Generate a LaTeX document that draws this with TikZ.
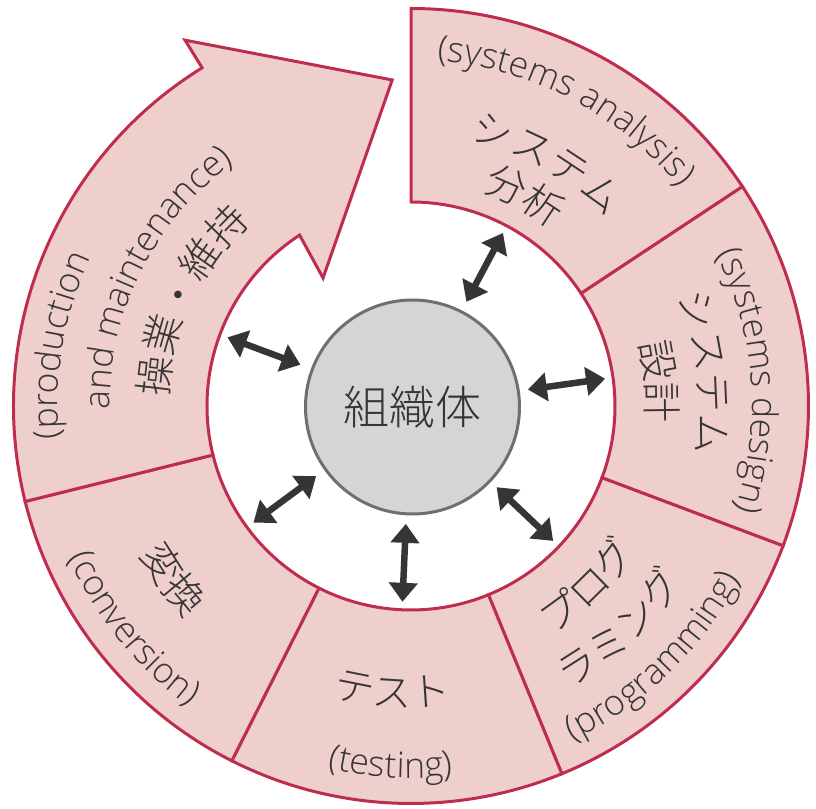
\documentclass[tikz,border=0pt]{standalone}
\usepackage{fontspec}
\setmainfont{Open Sans Light}
\newfontfamily\jp{Noto Sans CJK JP Light}
\usetikzlibrary{arrows.meta,decorations.text}
\definecolor{segfill}{HTML}{EECFCC}
\definecolor{segline}{HTML}{BE2D4F}
\definecolor{orgfill}{HTML}{D4D5D7}
\definecolor{orgline}{HTML}{6F6F6F}
\definecolor{ink}{HTML}{353535}
\newcommand\jpf{\jp\fontsize{40}{40}\selectfont\color{ink}}
\newcommand\enf{\fontsize{35.5}{35.5}\selectfont\color{ink}}
\newcommand\Ro{397.5}
\newcommand\Ri{204}
% clockwise text, tops outward: centre angle, baseline radius, format, text
\newcommand\cwtext[4]{%
  \path[decorate, decoration={text along path, text align=center, text={|#3|#4}}]
    ({#1+80}:#2) arc[start angle={#1+80}, end angle={#1-80}, radius=#2];}
% counter-clockwise text, tops inward
\newcommand\ccwtext[4]{%
  \path[decorate, decoration={text along path, text align=center, text={|#3|#4}}]
    ({#1-80}:#2) arc[start angle={#1-80}, end angle={#1+80}, radius=#2];}
\begin{document}
\begin{tikzpicture}[x=1pt,y=1pt,
  seg/.style={fill=segfill, draw=segline, line width=3pt, line join=miter},
  link/.style={draw=ink, line width=6.5pt,
    {Triangle[length=19pt,width=28pt]}-{Triangle[length=19pt,width=28pt]}},
  org/.style={circle, fill=orgfill, draw=orgline, line width=3pt,
    minimum size=214pt, inner sep=0pt, font=\jp\fontsize{46}{46}\selectfont, text=ink}]
\useasboundingbox (-411,-402) rectangle (405,406);

% segments
\draw[seg] (90:\Ri) -- (90:\Ro) arc[start angle=90, end angle=33.5, radius=\Ro]
  -- (33.5:\Ri) arc[start angle=33.5, end angle=90, radius=\Ri] -- cycle;
\draw[seg] (33.5:\Ri) -- (33.5:\Ro) arc[start angle=33.5, end angle=-20.6, radius=\Ro]
  -- (-20.6:\Ri) arc[start angle=-20.6, end angle=33.5, radius=\Ri] -- cycle;
\draw[seg] (-20.6:\Ri) -- (-20.6:\Ro) arc[start angle=-20.6, end angle=-67.7, radius=\Ro]
  -- (-67.7:\Ri) arc[start angle=-67.7, end angle=-20.6, radius=\Ri] -- cycle;
\draw[seg] (-67.7:\Ri) -- (-67.7:\Ro) arc[start angle=-67.7, end angle=-116.8, radius=\Ro]
  -- (-116.8:\Ri) arc[start angle=-116.8, end angle=-67.7, radius=\Ri] -- cycle;
\draw[seg] (243.2:\Ri) -- (243.2:\Ro) arc[start angle=243.2, end angle=193.9, radius=\Ro]
  -- (193.9:\Ri) arc[start angle=193.9, end angle=243.2, radius=\Ri] -- cycle;
% production and maintenance arrow
\draw[seg] (193.9:\Ri) -- (193.9:\Ro) arc[start angle=193.9, end angle=121.7, radius=\Ro]
  -- (121.7:430) -- (93.3:326.6) -- (124.5:155.3) -- (123.1:\Ri)
  arc[start angle=123.1, end angle=193.9, radius=\Ri] -- cycle;

% centre
\node[org] (org) at (1.5,-1) {組織体};

% links
\foreach \a/\n in {62/an, 8/de, -43.5/pr, -92.5/te, 216.5/co, 159.5/pm}{
  \coordinate (\n-in) at (\a:118);
  \coordinate (\n-out) at (\a:196);
  \draw[link] (\n-in) -- (\n-out);
}

% labels: systems analysis
\cwtext{62.4}{346}{\enf}{(systems analysis)}
\cwtext{60.7}{272}{\jpf}{システム}
\cwtext{61.6}{226}{\jpf}{分析}
% systems design
\cwtext{4.3}{341}{\enf}{(systems design)}
\cwtext{6.5}{288}{\jpf}{システム}
\cwtext{5.7}{236}{\jpf}{設計}
% programming
\ccwtext{-45.5}{269}{\jpf}{プログ}
\ccwtext{-46.8}{324}{\jpf}{ラミング}
\ccwtext{-46}{372}{\enf}{(programming)}
% testing
\ccwtext{-93.7}{301}{\jpf}{テスト}
\ccwtext{-93.2}{372}{\enf}{(testing)}
% conversion
\ccwtext{216}{309}{\jpf}{変換}
\ccwtext{218.7}{374}{\enf}{(conversion)}
% production and maintenance
\cwtext{170.2}{353}{\enf}{(production}
\cwtext{153.3}{301}{\enf}{and maintenance)}
\cwtext{154.5}{243}{\jpf}{操業・維持}
\end{tikzpicture}
\end{document}
